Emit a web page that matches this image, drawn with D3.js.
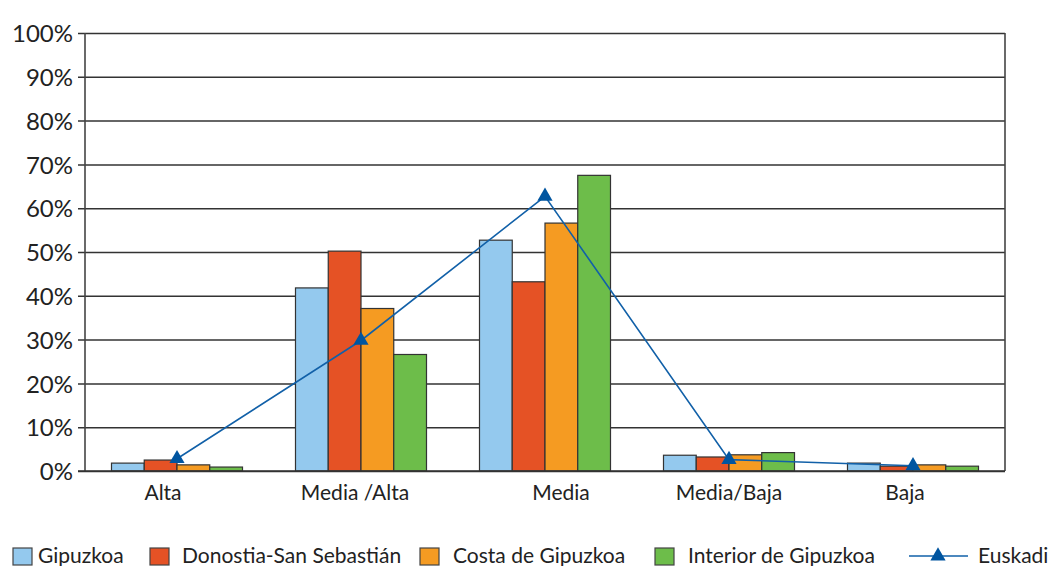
<!DOCTYPE html>
<html>
<head>
<meta charset="utf-8">
<script src="https://cdn.jsdelivr.net/npm/d3@7"></script>
<style>
  html, body { margin: 0; padding: 0; background: #fff; }
  svg { display: block; font-family: Lato, "Open Sans", sans-serif; }
</style>
</head>
<body>
<svg id="chart" width="1053" height="566"></svg>
<script>
// ---- Data ----
const categories = ["Alta", "Media /Alta", "Media", "Media/Baja", "Baja"];
const seriesNames = ["Gipuzkoa", "Donostia-San Sebastián", "Costa de Gipuzkoa", "Interior de Gipuzkoa"];
const gipuzkoa = [1.8, 41.8, 52.7, 3.6, 1.8];
const donostia = [2.5, 50.2, 43.2, 3.2, 1.1];
const costa    = [1.4, 37.1, 56.6, 3.7, 1.4];
const interior = [0.9, 26.6, 67.5, 4.2, 1.1];
const euskadiName = "Euskadi";
const euskadi  = [2.8, 29.8, 62.7, 2.6, 1.2];
const yTicks = [0, 10, 20, 30, 40, 50, 60, 70, 80, 90, 100];

// ---- Layout / style ----
const colors = ["#94C9EE", "#E55225", "#F59B22", "#6DBD4A"];
const lineColor = "#1160A8";
const markerColor = "#0055A0";
const labelShift = [-14, -6, 16, 0, -8];
const plotLeft = 85, plotRight = 1005, plotTop = 33, plotBottom = 471;

const svg = d3.select("#chart");
const series = [gipuzkoa, donostia, costa, interior];

const y = d3.scaleLinear().domain([0, 100]).range([plotBottom, plotTop]);
const x0 = d3.scaleBand().domain(categories).range([plotLeft, plotRight])
  .paddingInner(0.288).paddingOuter(0.144);
const x1 = d3.scaleBand().domain(d3.range(series.length)).range([0, x0.bandwidth()]);
const xc = d => x0(d) + x0.bandwidth() / 2;

// Gridlines + y axis labels
const yAxis = d3.axisLeft(y).tickValues(yTicks).tickFormat(d => d + "%")
  .tickSize(-(plotRight - plotLeft)).tickPadding(12);
const gy = svg.append("g").attr("transform", `translate(${plotLeft},0)`).call(yAxis);
gy.select(".domain").remove();
gy.selectAll(".tick line").attr("x1", -7).attr("stroke", "#333").attr("stroke-width", 1.5);
gy.selectAll(".tick text").attr("font-size", 24).attr("fill", "#222")
  .attr("font-family", "Lato, sans-serif").attr("dy", "0.36em").attr("x", -12);

// Frame: left axis and right border
svg.append("line").attr("x1", plotLeft).attr("x2", plotLeft).attr("y1", plotTop).attr("y2", plotBottom)
  .attr("stroke", "#444").attr("stroke-width", 1.6);
svg.append("line").attr("x1", plotRight).attr("x2", plotRight).attr("y1", plotTop).attr("y2", plotBottom)
  .attr("stroke", "#444").attr("stroke-width", 1.6);

// Bars
const groups = svg.append("g").selectAll("g").data(categories).join("g")
  .attr("transform", d => `translate(${x0(d)},0)`);
groups.selectAll("rect")
  .data((c, ci) => series.map((s, si) => ({ si, v: s[ci] })))
  .join("rect")
  .attr("x", d => x1(d.si))
  .attr("width", x1.bandwidth())
  .attr("y", d => y(d.v))
  .attr("height", d => y(0) - y(d.v))
  .attr("fill", d => colors[d.si])
  .attr("stroke", "#333")
  .attr("stroke-width", 1.2);

// Baseline
svg.append("line").attr("x1", plotLeft - 7).attr("x2", plotRight).attr("y1", y(0)).attr("y2", y(0))
  .attr("stroke", "#333").attr("stroke-width", 1.6);

// X labels
const xAxis = d3.axisBottom(x0).tickSize(0).tickPadding(14);
const gx = svg.append("g").attr("transform", `translate(0,${plotBottom})`).call(xAxis);
gx.select(".domain").remove();
gx.selectAll(".tick text").attr("font-size", 21).attr("fill", "#222")
  .attr("font-family", "Lato, sans-serif")
  .attr("dx", (d, i) => labelShift[i]);

// Euskadi line
const line = d3.line().x((d, i) => xc(categories[i])).y(d => y(d));
svg.append("path").datum(euskadi).attr("d", line)
  .attr("fill", "none").attr("stroke", lineColor).attr("stroke-width", 1.6);
const tri = d3.symbol().type(d3.symbolTriangle).size(100);
svg.append("g").selectAll("path").data(euskadi).join("path")
  .attr("d", tri)
  .attr("transform", (d, i) => `translate(${xc(categories[i])},${y(d)})`)
  .attr("fill", markerColor);

// Legend
const legendY = 556;
const legendItems = [
  { sx: 13, tx: 38 }, { sx: 150, tx: 182 }, { sx: 420, tx: 453 }, { sx: 655, tx: 688 }
];
const lg = svg.append("g").attr("font-family", "Lato, sans-serif").attr("font-size", 21).attr("fill", "#222");
seriesNames.forEach((name, i) => {
  lg.append("rect").attr("x", legendItems[i].sx).attr("y", legendY - 8).attr("width", 19).attr("height", 17)
    .attr("fill", colors[i]).attr("stroke", "#444").attr("stroke-width", 1.2);
  lg.append("text").attr("x", legendItems[i].tx).attr("y", legendY).attr("dy", "0.35em").text(name);
});
lg.append("line").attr("x1", 909).attr("x2", 968).attr("y1", legendY).attr("y2", legendY)
  .attr("stroke", lineColor).attr("stroke-width", 1.6);
lg.append("path").attr("d", tri).attr("transform", `translate(938,${legendY})`).attr("fill", markerColor);
lg.append("text").attr("x", 978).attr("y", legendY).attr("dy", "0.35em").text(euskadiName);
</script>
</body>
</html>
